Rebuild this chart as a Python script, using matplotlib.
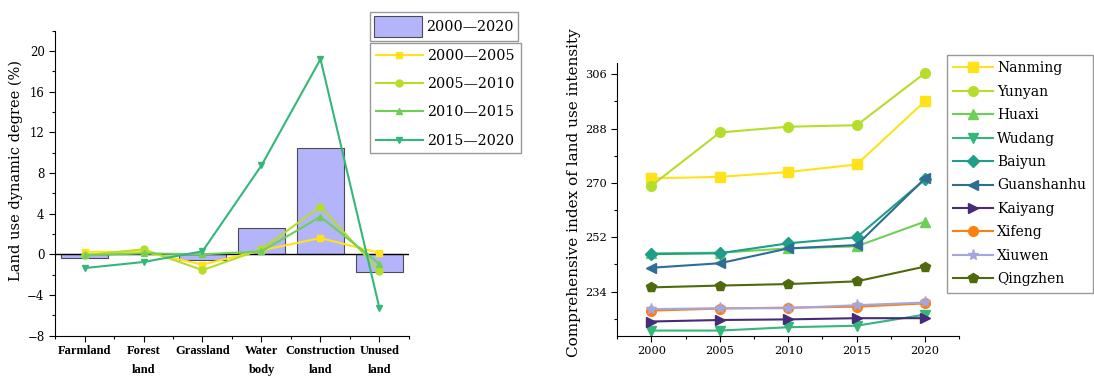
import matplotlib
matplotlib.use("Agg")
import matplotlib.pyplot as plt
from matplotlib.ticker import MultipleLocator, FixedLocator
import numpy as np

plt.rcParams['font.family'] = ['DejaVu Serif']

# ---- left panel data: land use dynamic degree (%) ----
land_types = ["Farmland", "Forest\nland", "Grassland", "Water\nbody", "Construction\nland", "Unused\nland"]
dyn_2000_2020 = [-0.35, 0.0, -0.55, 2.6, 10.5, -1.75]
dyn_2000_2005 = [0.25, 0.25, -1.0, 0.4, 1.6, 0.15]
dyn_2005_2010 = [-0.1, 0.5, -1.55, 0.5, 4.7, -1.65]
dyn_2010_2015 = [-0.1, 0.1, 0.0, 0.3, 3.7, -0.95]
dyn_2015_2020 = [-1.35, -0.75, 0.3, 8.75, 19.2, -5.3]
period_labels = ["2000\u20142005", "2005\u20142010", "2010\u20142015", "2015\u20142020"]
bar_label = "2000\u20142020"

# ---- right panel data: comprehensive index of land use intensity ----
years = [2000, 2005, 2010, 2015, 2020]
districts = ["Nanming", "Yunyan", "Huaxi", "Wudang", "Baiyun",
             "Guanshanhu", "Kaiyang", "Xifeng", "Xiuwen", "Qingzhen"]
nanming = [271.5, 272.0, 273.6, 276.1, 297.1]
yunyan = [269.1, 286.7, 288.6, 289.1, 306.4]
huaxi = [246.7, 246.9, 248.3, 249.0, 257.2]
wudang = [221.1, 221.1, 222.2, 222.7, 226.4]
baiyun = [246.4, 246.7, 250.0, 252.0, 271.2]
guanshanhu = [241.9, 243.4, 248.3, 249.4, 271.5]
kaiyang = [224.1, 224.6, 224.8, 225.2, 225.2]
xifeng = [227.7, 228.4, 228.7, 229.0, 230.1]
xiuwen = [228.2, 228.5, 228.5, 229.5, 230.4]
qingzhen = [235.4, 236.0, 236.5, 237.4, 242.3]

W, H = 1094, 376
fig = plt.figure(figsize=(W / 100, H / 100), dpi=100)

# ================= left panel =================
ax1 = fig.add_axes([55 / W, 40.3 / H, 354 / W, 305 / H])
x = np.arange(len(land_types))
bars = ax1.bar(x, dyn_2000_2020, width=0.8, color="#b4b4fa", edgecolor="#4a4a5a",
               linewidth=0.8, label=bar_label, zorder=2)
ax1.axhline(0, color="black", linewidth=1.0, zorder=3)

line_colors = ["#ffe21a", "#b5de2b", "#6ecf58", "#35b779"]
markers = ["s", "o", "^", "v"]
series = [dyn_2000_2005, dyn_2005_2010, dyn_2010_2015, dyn_2015_2020]
line_handles = []
for vals, c, m, lab in zip(series, line_colors, markers, period_labels):
    h, = ax1.plot(x, vals, color=c, marker=m, markersize=5, linewidth=1.5,
                  label=lab, zorder=4)
    line_handles.append(h)

ax1.set_xlim(-0.5, 5.5)
ax1.set_ylim(-8, 22)
ax1.yaxis.set_major_locator(FixedLocator([-8, -4, 0, 4, 8, 12, 16, 20]))
ax1.yaxis.set_minor_locator(MultipleLocator(2))
ax1.set_xticks(x)
ax1.set_xticklabels(land_types, fontweight="bold", fontsize=9, linespacing=1.7,
                    family=["Liberation Serif"])
ax1.xaxis.set_minor_locator(FixedLocator(np.arange(-0.5, 6, 1.0)))
ax1.set_yticklabels(["\u22128", "\u22124", "0", "4", "8", "12", "16", "20"], fontsize=8.5)
ax1.tick_params(axis="both", which="major", direction="out", length=4, width=0.8)
ax1.tick_params(axis="both", which="minor", direction="out", length=2.5, width=0.8)
ax1.tick_params(axis="x", which="major", pad=3)
for s in ("top", "right"):
    ax1.spines[s].set_visible(False)
ax1.set_ylabel("Land use dynamic degree (%)", fontsize=10.5, labelpad=2)
ax1.yaxis.set_label_coords(-0.09, 0.542)

leg_a = fig.legend(handles=[bars], labels=[bar_label], loc="upper left",
                   bbox_to_anchor=(370 / W, 1 - 12 / H), borderaxespad=0,
                   fontsize=10.3, handlelength=3.3, handleheight=1.8,
                   handletextpad=0.3, borderpad=0.3, fancybox=False,
                   edgecolor="#999999", framealpha=1)
leg_a.get_frame().set_linewidth(1.0)
leg_b = fig.legend(handles=line_handles, labels=period_labels, loc="upper left",
                   bbox_to_anchor=(370 / W, 1 - 43 / H), borderaxespad=0,
                   fontsize=10.3, handlelength=3.3, handletextpad=0.3,
                   labelspacing=1.0, borderpad=0.4, fancybox=False,
                   edgecolor="#999999", framealpha=1)
leg_b.get_frame().set_linewidth(1.0)

# ================= right panel =================
ax2 = fig.add_axes([617.3 / W, 40.3 / H, 342 / W, 273 / H])
district_values = [nanming, yunyan, huaxi, wudang, baiyun,
                   guanshanhu, kaiyang, xifeng, xiuwen, qingzhen]
district_colors = ["#ffe21a", "#b5de2b", "#6ecf58", "#35b779", "#1f9e89",
                   "#2e6e94", "#472a7a", "#ff7f0e", "#a3a6e0", "#4f6a0c"]
district_markers = ["s", "o", "^", "v", "D", "<", ">", "o", "*", "p"]
district_msize = [6.5, 7, 7, 7, 6, 7, 7, 7, 8, 7.5]
handles = []
for vals, c, m, ms, name in zip(district_values, district_colors, district_markers,
                                district_msize, districts):
    h, = ax2.plot(years, vals, color=c, marker=m, markersize=ms, linewidth=1.5,
                  label=name)
    handles.append(h)

ax2.set_xlim(1997.5, 2022.5)
ax2.set_ylim(219.4, 309.8)
ax2.set_xticks(years)
ax2.xaxis.set_minor_locator(FixedLocator(np.arange(1997.5, 2023, 5)))
ax2.yaxis.set_major_locator(FixedLocator([234, 252, 270, 288, 306]))
ax2.yaxis.set_minor_locator(FixedLocator([225, 243, 261, 279, 297]))
ax2.tick_params(axis="both", which="major", direction="out", length=4, width=0.8,
                labelsize=8.2)
ax2.tick_params(axis="both", which="minor", direction="out", length=2.5, width=0.8)
for s in ("top", "right"):
    ax2.spines[s].set_visible(False)
ax2.set_ylabel("Comprehensive index of land use intensity", fontsize=11)
ax2.yaxis.set_label_coords(-0.105, 0.523)

leg_c = fig.legend(handles=handles, labels=districts, loc="upper left",
                   bbox_to_anchor=(946.7 / W, 1 - 55 / H), borderaxespad=0,
                   fontsize=10, handlelength=2.9, handletextpad=0.3,
                   labelspacing=0.68, borderpad=0.45, fancybox=False,
                   edgecolor="#999999", framealpha=1)
leg_c.get_frame().set_linewidth(1.0)

fig.savefig("out.png", dpi=100)
